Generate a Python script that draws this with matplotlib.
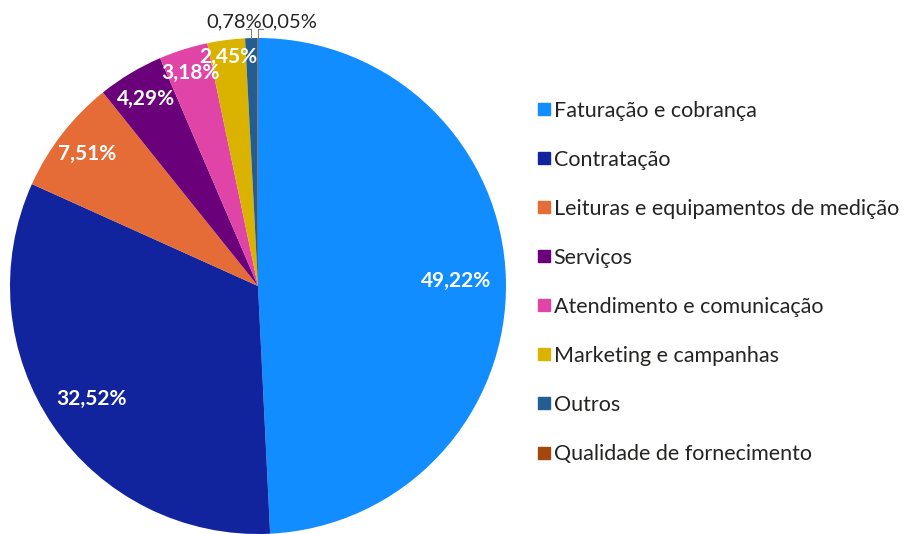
import matplotlib
matplotlib.use("Agg")
import matplotlib.pyplot as plt
from matplotlib.lines import Line2D
import numpy as np

# =====================================================
# DATA
# =====================================================
categories = [
    "Faturação e cobrança",
    "Contratação",
    "Leituras e equipamentos de medição",
    "Serviços",
    "Atendimento e comunicação",
    "Marketing e campanhas",
    "Outros",
    "Qualidade de fornecimento",
]
values = [49.22, 32.52, 7.51, 4.29, 3.18, 2.45, 0.78, 0.05]
colors = ["#118DFF", "#12239E", "#E66C37", "#6B007B",
          "#E044A7", "#D9B300", "#225E92", "#A3470F"]

# radial position of the label for each slice (fraction of radius)
label_r = [0.80, 0.81, 0.87, 0.88, 0.90, 0.93, None, None]

TEXT = "#252423"
plt.rcParams["font.family"] = ["Lato", "DejaVu Sans"]

# =====================================================
# FIGURE
# =====================================================
W, H = 905, 534
fig = plt.figure(figsize=(W / 100, H / 100), dpi=100)
ax = fig.add_axes([0, 0, 1, 1])
cx, cy, R = 258, 286, 248

wedges, _ = ax.pie(values, colors=colors, startangle=90, counterclock=False,
                   radius=1, center=(0, 0), frame=True,
                   wedgeprops=dict(linewidth=0))
ax.set_xlim(-cx / R, (W - cx) / R)
ax.set_ylim(-(H - cy) / R, cy / R)
ax.set_aspect("auto")
ax.axis("off")


def fmt(v):
    return f"{v:.2f}%".replace(".", ",")


for w, v, r in zip(wedges, values, label_r):
    mid = np.deg2rad((w.theta1 + w.theta2) / 2)
    if r is not None:
        ax.text(r * np.cos(mid), r * np.sin(mid), fmt(v), color="white",
                fontsize=15, fontweight="bold", ha="center", va="center")

# small slices: leader lines and outside labels
w_out, w_q = wedges[6], wedges[7]
m1 = np.deg2rad((w_out.theta1 + w_out.theta2) / 2)
m2 = np.deg2rad((w_q.theta1 + w_q.theta2) / 2)
x1, x2 = np.cos(m1), np.cos(m2)
top = 1.035
ax.plot([x1, x1, x1 - 0.02], [np.sin(m1), top, top], color="#7f7f7f", lw=0.8)
ax.plot([x2, x2, x2 + 0.02], [np.sin(m2), top, top], color="#7f7f7f", lw=0.8)
ax.text(x1 + 0.045, top - 0.005, fmt(values[6]), color=TEXT, fontsize=14.5,
        ha="right", va="bottom")
ax.text(x2 + 0.015, top - 0.005, fmt(values[7]), color=TEXT, fontsize=14.5,
        ha="left", va="bottom")

# =====================================================
# LEGEND
# =====================================================
handles = [Line2D([], [], marker="s", ls="", color=c, markersize=8)
           for c in colors]
fig.legend(handles, categories, loc="upper left",
           bbox_to_anchor=(529 / W, 1 - 92 / H), frameon=False,
           fontsize=15.5, labelspacing=1.35, handletextpad=0.15,
           handlelength=0.6, labelcolor=TEXT, borderaxespad=0)

fig.savefig("out.png", dpi=100)
